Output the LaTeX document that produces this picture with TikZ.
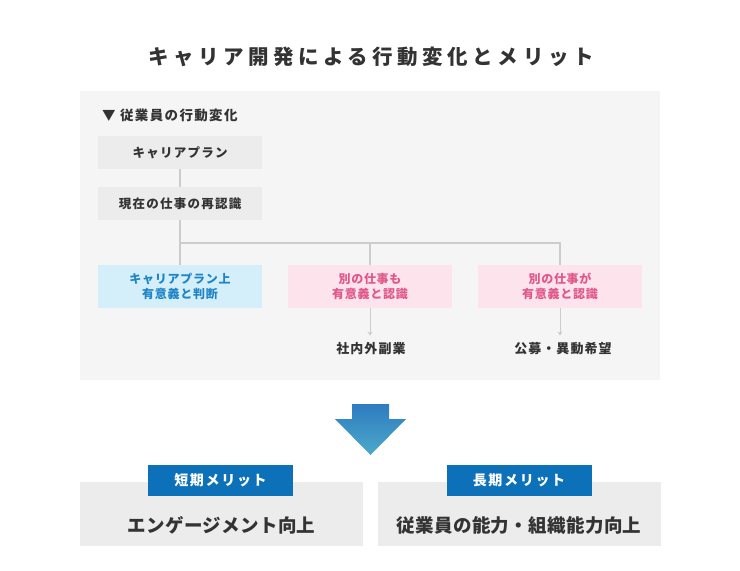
\documentclass[tikz,border=0pt]{standalone}
\usepackage{fontspec}
\setmainfont{Noto Sans CJK JP}
\usetikzlibrary{arrows.meta}
% 色
\definecolor{panelgray}{HTML}{F5F5F5}
\definecolor{boxgray}{HTML}{ECECEC}
\definecolor{linegray}{HTML}{CCCCCC}
\definecolor{textdark}{HTML}{333333}
\definecolor{blueback}{HTML}{D4EEFA}
\definecolor{bluetext}{HTML}{1F85C6}
\definecolor{pinkback}{HTML}{FCE3EC}
\definecolor{pinktext}{HTML}{E0588A}
\definecolor{tabblue}{HTML}{0C71B8}
\definecolor{arrowtop}{HTML}{2E7CC0}
\definecolor{arrowbottom}{HTML}{4CA9C9}
\newcommand{\jpsize}[2]{\fontsize{#1}{#2}\selectfont}
\newcommand{\spaced}[1]{\addfontfeature{LetterSpace=#1}}

\begin{document}
\begin{tikzpicture}[x=1pt, y=-1pt, >={Stealth[length=4pt,width=5pt]},
    stepbox/.style={fill=boxgray, minimum width=164pt, minimum height=33pt, inner sep=0pt,
      text=textdark, font=\jpsize{12.5}{15}\bfseries\spaced{10}},
    colorbox/.style={minimum width=164pt, minimum height=43pt, inner sep=0pt, align=center,
      font=\jpsize{12}{15.5}\bfseries\spaced{6}},
    bluebox/.style={colorbox, fill=blueback, text=bluetext},
    pinkbox/.style={colorbox, fill=pinkback, text=pinktext},
    result/.style={inner sep=0pt, text=textdark, font=\jpsize{13}{15}\bfseries\spaced{8}},
    conn/.style={draw=linegray, line width=1.3pt},
    meritbox/.style={fill=boxgray, minimum width=283pt, minimum height=64pt, inner sep=0pt},
    merittext/.style={inner sep=0pt, text=textdark, font=\jpsize{18.5}{20}\bfseries\spaced{2}},
    tab/.style={fill=tabblue, minimum width=145pt, minimum height=31pt, inner sep=0pt,
      text=white, font=\jpsize{14}{16}\bfseries\spaced{12}}]
  \useasboundingbox (0,0) rectangle (740,571);
  % タイトル
  \node[text=textdark, font=\jpsize{20.5}{24}\bfseries\spaced{22}] (title) at (371,57)
    {キャリア開発による行動変化とメリット};
  % 背景パネル
  \fill[panelgray] (80,91) rectangle (660,380);
  \node[anchor=west, inner sep=0pt, text=textdark, font=\jpsize{13.5}{15}\bfseries\spaced{10}]
    (heading) at (102,115) {▼ 従業員の行動変化};
  % 行動変化の流れ
  \node[stepbox] (plan) at (180,152.5) {キャリアプラン};
  \node[stepbox] (ninshiki) at (180,203.5) {現在の仕事の再認識};
  \node[bluebox] (hantei) at (180,286.5) {キャリアプラン上\\有意義と判断};
  \node[pinkbox] (betsuA) at (370,286.5) {別の仕事も\\有意義と認識};
  \node[pinkbox] (betsuB) at (560,286.5) {別の仕事が\\有意義と認識};
  \node[result] (fukugyo) at (371,349) {社内外副業};
  \node[result] (kobo) at (563,349) {公募・異動希望};
  \coordinate (bus) at (180,243);
  \draw[conn] (plan) -- (ninshiki);
  \draw[conn] (ninshiki) -- (hantei);
  \draw[conn] (bus) -| (betsuB.north);
  \draw[conn] (betsuA.north) -- (betsuA.north |- bus);
  \draw[conn, line width=1pt, ->, shorten >=7pt] (betsuA) -- (betsuA |- fukugyo.north);
  \draw[conn, line width=1pt, ->, shorten >=7pt] (betsuB) -- (betsuB |- kobo.north);
  % 大きい矢印
  \shade[top color=arrowtop, bottom color=arrowbottom]
    (352,404) -- (389,404) -- (389,419) -- (406,419) -- (370.5,455)
    -- (335,419) -- (352,419) -- cycle;
  % メリット
  \node[meritbox] (tankiBox) at (221.5,514) {};
  \node[merittext] (tankiText) at (221.5,525) {エンゲージメント向上};
  \node[tab] (tankiTab) at (220.5,480.5) {短期メリット};
  \node[meritbox] (chokiBox) at (519,514) {};
  \node[merittext] (chokiText) at (519,525) {従業員の能力・組織能力向上};
  \node[tab] (chokiTab) at (519,480.5) {長期メリット};
\end{tikzpicture}
\end{document}
